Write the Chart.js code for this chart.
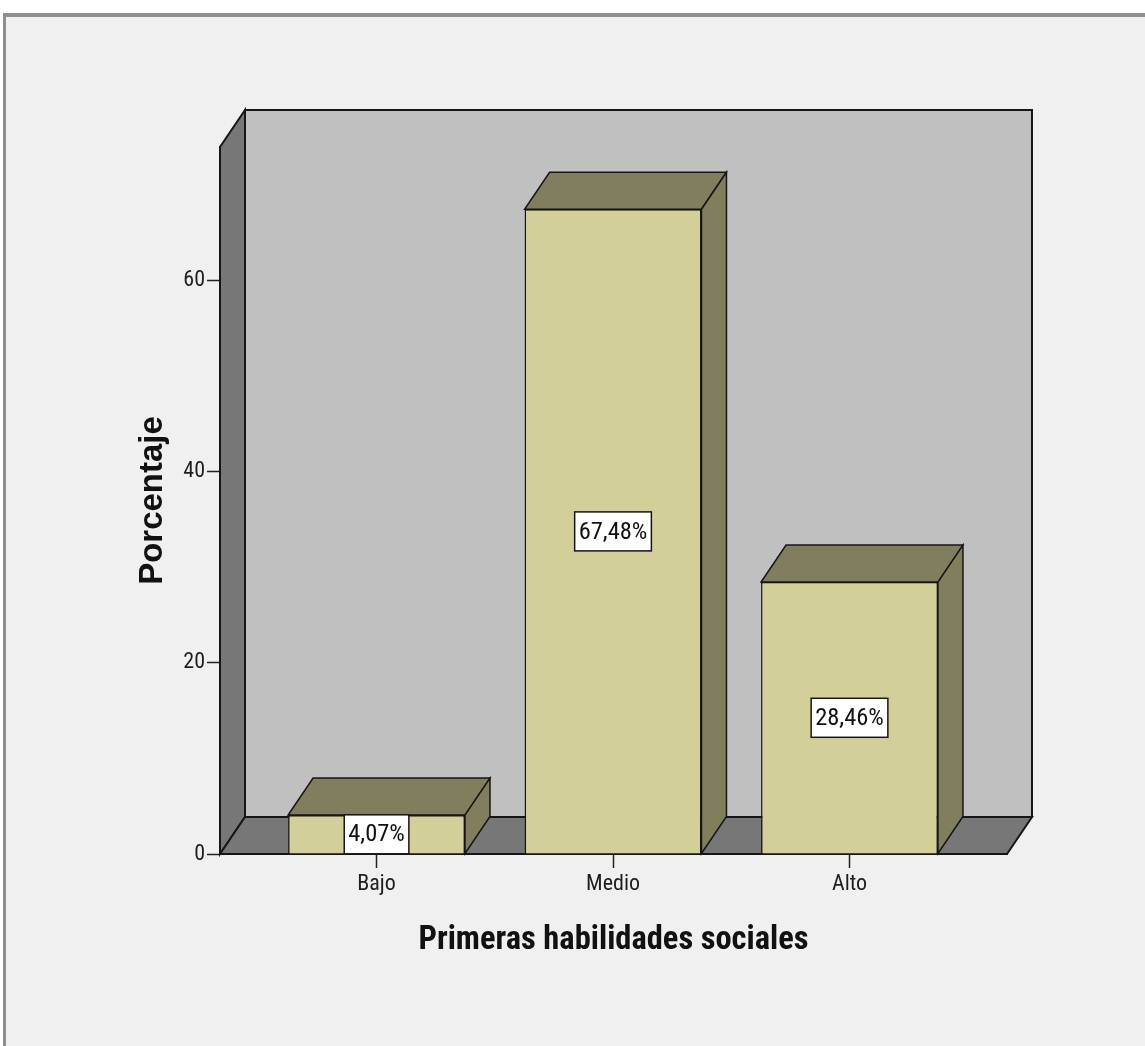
<!DOCTYPE html>
<html>
<head>
<meta charset="utf-8">
<title>Primeras habilidades sociales</title>
<script src="https://cdn.jsdelivr.net/npm/chart.js@4.4.1/dist/chart.umd.min.js"></script>
<style>
  html, body { margin: 0; padding: 0; background: #ffffff; overflow: hidden; }
  #frame {
    position: absolute; left: 3px; top: 13px; width: 1200px; height: 1100px;
    box-sizing: border-box; background: #f0f0f0;
    border-top: 4px solid #8e8e8e; border-left: 3px solid #8e8e8e;
  }
  #wrap { position: absolute; left: 0; top: 0; width: 1145px; height: 1046px; }
</style>
</head>
<body>
<div id="frame"></div>
<div id="wrap"><canvas id="chart" width="1145" height="1046"></canvas></div>
<script>
// Percentage of respondents per level
const categories = ['Bajo', 'Medio', 'Alto'];
const percentages = [4.07, 67.48, 28.46];
const yTickValues = [0, 20, 40, 60];

const SANS_NARROW = "'Roboto Condensed', 'Liberation Sans', Arial, sans-serif";
const SANS = "'Liberation Sans', Arial, sans-serif";

// 3D look: depth offset of walls and boxes
const DEPTH_X = 25;
const DEPTH_Y = -37;
const LINE = '#161616';

function poly(ctx, pts, fill) {
  ctx.beginPath();
  ctx.moveTo(pts[0][0], pts[0][1]);
  for (let i = 1; i < pts.length; i++) ctx.lineTo(pts[i][0], pts[i][1]);
  ctx.closePath();
  ctx.fillStyle = fill;
  ctx.fill();
  ctx.stroke();
}

const box3d = {
  id: 'box3d',
  // back wall, side wall and floor of the plot box
  beforeDraw(chart) {
    const { ctx } = chart;
    const xs = chart.scales.x, ys = chart.scales.y;
    const L = xs.getPixelForValue(xs.min), R = xs.getPixelForValue(xs.max);
    const T = ys.getPixelForValue(ys.max), B = ys.getPixelForValue(0);
    ctx.save();
    ctx.lineWidth = 2;
    ctx.strokeStyle = LINE;
    poly(ctx, [[L + DEPTH_X, T + DEPTH_Y], [R + DEPTH_X, T + DEPTH_Y], [R + DEPTH_X, B + DEPTH_Y], [L + DEPTH_X, B + DEPTH_Y]], '#c0c0c0');
    poly(ctx, [[L, T], [L + DEPTH_X, T + DEPTH_Y], [L + DEPTH_X, B + DEPTH_Y], [L, B]], '#777777');
    poly(ctx, [[L, B], [L + DEPTH_X, B + DEPTH_Y], [R + DEPTH_X, B + DEPTH_Y], [R, B]], '#777777');
    ctx.restore();
  },
  // top and right faces of each bar
  beforeDatasetsDraw(chart) {
    const { ctx } = chart;
    const meta = chart.getDatasetMeta(0);
    ctx.save();
    ctx.lineWidth = 1.5;
    ctx.strokeStyle = LINE;
    meta.data.forEach((el) => {
      const l = el.x - el.width / 2, r = el.x + el.width / 2, t = el.y, b = el.base;
      poly(ctx, [[l, t], [r, t], [r + DEPTH_X, t + DEPTH_Y], [l + DEPTH_X, t + DEPTH_Y]], '#807e5c');
      poly(ctx, [[r, t], [r + DEPTH_X, t + DEPTH_Y], [r + DEPTH_X, b + DEPTH_Y], [r, b]], '#807e5c');
    });
    ctx.restore();
  },
  // boxed percentage labels in the middle of each bar
  afterDatasetsDraw(chart) {
    const { ctx } = chart;
    const meta = chart.getDatasetMeta(0);
    ctx.save();
    ctx.font = '24.5px ' + SANS_NARROW;
    ctx.textAlign = 'center';
    ctx.textBaseline = 'middle';
    meta.data.forEach((el, i) => {
      const text = percentages[i].toFixed(2).replace('.', ',') + '%';
      const w = ctx.measureText(text).width + 8, h = 39;
      const cx = el.x, cy = (el.y + el.base) / 2;
      ctx.fillStyle = '#ffffff';
      ctx.fillRect(cx - w / 2, cy - h / 2, w, h);
      ctx.lineWidth = 1.5;
      ctx.strokeStyle = LINE;
      ctx.strokeRect(cx - w / 2, cy - h / 2, w, h);
      ctx.fillStyle = '#111111';
      ctx.fillText(text, cx, cy + 1);
    });
    ctx.restore();
  }
};

new Chart(document.getElementById('chart'), {
  type: 'bar',
  data: {
    datasets: [{
      data: categories.map((c, i) => ({ x: i, y: percentages[i] })),
      backgroundColor: '#d3cf98',
      borderColor: LINE,
      borderWidth: 1.5,
      barPercentage: 0.748,
      categoryPercentage: 1
    }]
  },
  options: {
    responsive: false,
    animation: false,
    layout: { padding: { top: 147, right: 138, left: 0, bottom: 0 } },
    plugins: { legend: { display: false }, tooltip: { enabled: false } },
    scales: {
      x: {
        type: 'linear',
        min: -0.662,
        max: 2.666,
        offset: false,
        afterBuildTicks: (s) => { s.ticks = categories.map((c, i) => ({ value: i })); },
        afterFit: (s) => { s.height = 192; },
        ticks: {
          callback: (v) => categories[v],
          autoSkip: false, maxRotation: 0,
          font: { family: SANS_NARROW, size: 22 },
          color: '#1e1e1e',
          padding: 3
        },
        grid: { offset: false, drawOnChartArea: false, tickLength: 14, tickColor: '#222222', tickWidth: 1.5 },
        border: { color: LINE, width: 2 },
        title: {
          display: true,
          text: 'Primeras habilidades sociales',
          font: { family: SANS_NARROW, size: 32.5, weight: 'bold' },
          color: '#111111',
          padding: { top: 0, bottom: 86 }
        }
      },
      y: {
        min: 0,
        max: 74,
        afterBuildTicks: (s) => { s.ticks = yTickValues.map((v) => ({ value: v })); },
        afterFit: (s) => { s.width = 220; },
        ticks: {
          font: { family: SANS_NARROW, size: 22 },
          color: '#1e1e1e',
          padding: 2
        },
        grid: { drawOnChartArea: false, tickLength: 13, tickColor: '#222222', tickWidth: 1.5 },
        border: { color: LINE, width: 2 },
        title: {
          display: true,
          text: 'Porcentaje',
          font: { family: SANS, size: 33, weight: 'bold' },
          color: '#111111',
          padding: { top: 133, bottom: 0 }
        }
      }
    }
  },
  plugins: [box3d]
});
</script>
</body>
</html>
